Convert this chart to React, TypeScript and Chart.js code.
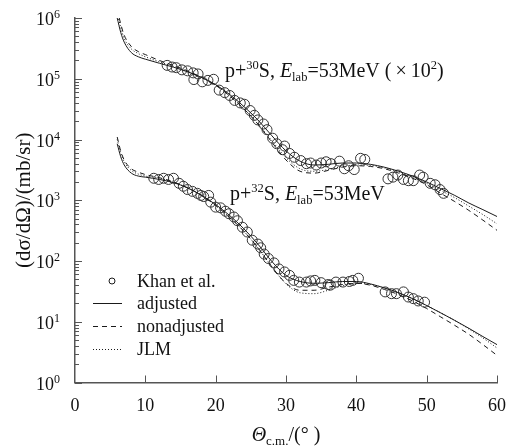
import React, { useEffect, useRef } from "react";
import { Chart, registerables } from "chart.js";

Chart.register(...registerables);

// ---------- data ----------
const curveAngles = [6, 6.5, 7, 8, 9, 10, 12, 14, 16, 18, 20, 22, 24, 26, 28, 30, 32, 34, 36, 38, 40, 42, 44, 46, 48, 50, 52, 54, 56, 58, 60];

// p+30S (x10^2)
const s30Adjusted = [1.0e6, 5.8e5, 4.0e5, 2.7e5, 2.3e5, 2.1e5, 1.8e5, 1.55e5, 1.3e5, 1.05e5, 8.0e4, 5.5e4, 3.5e4, 2.1e4, 1.15e4, 6.5e3, 4.4e3, 3.8e3, 3.9e3, 4.1e3, 4.1e3, 3.9e3, 3.5e3, 3.0e3, 2.5e3, 2.0e3, 1.55e3, 1.2e3, 9.0e2, 7.0e2, 5.4e2];
const s30Nonadjusted = [1.4e6, 8.0e5, 5.2e5, 3.4e5, 2.8e5, 2.5e5, 2.0e5, 1.65e5, 1.35e5, 1.05e5, 7.8e4, 5.2e4, 3.2e4, 1.8e4, 9.0e3, 4.6e3, 3.0e3, 2.8e3, 3.1e3, 3.5e3, 3.7e3, 3.6e3, 3.3e3, 2.8e3, 2.3e3, 1.8e3, 1.3e3, 9.5e2, 6.8e2, 4.7e2, 3.2e2];
const s30JLM = [1.2e6, 7.0e5, 4.6e5, 3.1e5, 2.6e5, 2.3e5, 1.9e5, 1.6e5, 1.32e5, 1.05e5, 7.8e4, 5.2e4, 3.2e4, 1.8e4, 9.5e3, 5.0e3, 3.3e3, 3.0e3, 3.2e3, 3.6e3, 3.8e3, 3.75e3, 3.4e3, 2.95e3, 2.45e3, 1.9e3, 1.45e3, 1.1e3, 8.0e2, 5.8e2, 4.1e2];

// p+32S
const s32Adjusted = [8.5e3, 5.2e3, 3.8e3, 2.8e3, 2.5e3, 2.4e3, 2.2e3, 1.95e3, 1.6e3, 1.2e3, 8.5e2, 5.6e2, 3.4e2, 1.9e2, 9.8e1, 5.8e1, 4.6e1, 4.3e1, 4.4e1, 4.6e1, 4.6e1, 4.2e1, 3.6e1, 3.0e1, 2.4e1, 1.85e1, 1.4e1, 1.05e1, 7.8, 5.7, 4.2];
const s32Nonadjusted = [1.1e4, 6.5e3, 4.6e3, 3.3e3, 2.9e3, 2.65e3, 2.35e3, 2.0e3, 1.6e3, 1.2e3, 8.2e2, 5.2e2, 3.1e2, 1.65e2, 8.0e1, 4.3e1, 3.3e1, 3.3e1, 3.7e1, 4.1e1, 4.3e1, 4.0e1, 3.4e1, 2.8e1, 2.2e1, 1.65e1, 1.2e1, 8.7, 6.2, 4.2, 2.8];
const s32JLM = [1.0e4, 6.0e3, 4.3e3, 3.1e3, 2.7e3, 2.5e3, 2.3e3, 1.97e3, 1.6e3, 1.2e3, 8.2e2, 5.2e2, 3.1e2, 1.65e2, 8.0e1, 4.2e1, 3.0e1, 2.9e1, 3.3e1, 3.9e1, 4.3e1, 4.1e1, 3.6e1, 3.0e1, 2.4e1, 1.85e1, 1.4e1, 1.05e1, 7.6, 5.4, 3.7];

// Khan et al. data
const khan30Angles = [13.1, 13.8, 14.4, 15.2, 16.0, 16.8, 17.5, 16.9, 18.1, 18.9, 19.7, 20.5, 21.3, 22.0, 22.7, 23.5, 24.1, 24.9, 25.5, 26.0, 26.8, 27.3, 28.1, 28.7, 29.5, 29.8, 30.5, 31.2, 32.1, 32.9, 33.5, 34.3, 35.0, 35.7, 36.4, 37.6, 38.3, 38.9, 39.7, 40.6, 41.2, 44.5, 45.2, 45.9, 46.7, 47.4, 48.1, 49.0, 49.5, 50.5, 51.2, 51.9, 52.4];
const khan30Values = [1.66e5, 1.56e5, 1.52e5, 1.4e5, 1.35e5, 1.25e5, 1.2e5, 9.7e4, 8.9e4, 9.4e4, 9.8e4, 6.5e4, 5.9e4, 5.3e4, 4.4e4, 4.0e4, 3.8e4, 3.0e4, 2.5e4, 2.1e4, 1.8e4, 1.45e4, 1.05e4, 8.5e3, 6.8e3, 7.8e3, 5.9e3, 5.1e3, 4.5e3, 4.0e3, 4.1e3, 3.8e3, 4.1e3, 4.3e3, 4.0e3, 4.4e3, 3.3e3, 3.7e3, 3.2e3, 4.9e3, 4.7e3, 2.25e3, 2.4e3, 2.6e3, 2.2e3, 2.1e3, 2.1e3, 2.6e3, 2.4e3, 1.9e3, 1.8e3, 1.5e3, 1.3e3];

const khan32Angles = [11.2, 11.9, 12.6, 13.3, 14.0, 14.8, 15.4, 16.0, 16.7, 17.4, 17.9, 18.3, 19.0, 19.3, 20.0, 20.7, 21.4, 21.9, 22.6, 23.1, 23.8, 24.5, 25.2, 26.0, 26.4, 26.9, 27.5, 28.3, 29.0, 29.8, 30.5, 31.1, 31.9, 32.9, 33.5, 34.1, 35.0, 36.0, 36.3, 37.1, 38.1, 39.0, 39.5, 40.3, 44.1, 45.0, 45.7, 46.7, 47.4, 48.1, 48.8, 49.7];
const khan32Values = [2.3e3, 2.2e3, 2.3e3, 2.2e3, 2.3e3, 1.9e3, 1.7e3, 1.5e3, 1.4e3, 1.3e3, 1.2e3, 1.15e3, 1.2e3, 9.3e2, 7.7e2, 7.5e2, 6.6e2, 6.0e2, 5.3e2, 4.6e2, 3.6e2, 3.0e2, 2.2e2, 1.9e2, 1.65e2, 1.3e2, 1.1e2, 9.3e1, 7.4e1, 6.6e1, 5.8e1, 4.8e1, 4.5e1, 4.5e1, 4.7e1, 4.8e1, 4.4e1, 4.1e1, 4.0e1, 4.5e1, 4.5e1, 4.6e1, 4.8e1, 5.2e1, 3.1e1, 2.9e1, 2.9e1, 3.1e1, 2.55e1, 2.4e1, 2.2e1, 2.1e1];

const xTickValues = [0, 10, 20, 30, 40, 50, 60];
const yTickExponents = [0, 1, 2, 3, 4, 5, 6];
const legendLabels = ["Khan et al.", "adjusted", "nonadjusted", "JLM"];

// ---------- helpers ----------
const SERIF = '"Liberation Serif", "Times New Roman", serif';
const INK = "#111";
const LINE = "#1a1a1a";
const AXIS = "#555";

type Seg = { t: string; size: number; italic?: boolean; dy?: number };

function drawRich(ctx: CanvasRenderingContext2D, x: number, y: number, segs: Seg[], align: "left" | "center" | "right" = "left") {
  let w = 0;
  const widths: number[] = [];
  for (const s of segs) {
    ctx.font = `${s.italic ? "italic " : ""}${s.size}px ${SERIF}`;
    const m = ctx.measureText(s.t).width;
    widths.push(m);
    w += m;
  }
  let cx = align === "center" ? x - w / 2 : align === "right" ? x - w : x;
  ctx.textAlign = "left";
  segs.forEach((s, i) => {
    ctx.font = `${s.italic ? "italic " : ""}${s.size}px ${SERIF}`;
    ctx.fillText(s.t, cx, y + (s.dy || 0));
    cx += widths[i];
  });
}

const pts = (xs: number[], ys: number[]) => xs.map((x, i) => ({ x, y: ys[i] }));

const DASH = [5, 4];
const DOT = [1, 2];

const overlayPlugin = {
  id: "overlay",
  afterDraw(chart: any) {
    const ctx: CanvasRenderingContext2D = chart.ctx;
    const xs = chart.scales.x;
    const ys = chart.scales.y;
    const area = chart.chartArea;
    ctx.save();
    ctx.fillStyle = INK;
    ctx.textBaseline = "alphabetic";

    // axes ticks (inward)
    ctx.strokeStyle = AXIS;
    ctx.lineWidth = 1;
    ctx.setLineDash([]);
    ctx.beginPath();
    for (const e of yTickExponents) {
      const py = Math.round(ys.getPixelForValue(Math.pow(10, e))) + 0.5;
      ctx.moveTo(area.left, py);
      ctx.lineTo(area.left + 7, py);
      if (e < 6) {
        for (let m = 2; m <= 9; m++) {
          const my = Math.round(ys.getPixelForValue(m * Math.pow(10, e))) + 0.5;
          ctx.moveTo(area.left, my);
          ctx.lineTo(area.left + 4, my);
        }
      }
    }
    for (const v of xTickValues) {
      if (v === 0) continue;
      const px = Math.round(xs.getPixelForValue(v)) + 0.5;
      ctx.moveTo(px, area.bottom);
      ctx.lineTo(px, area.bottom - 7);
    }
    ctx.stroke();

    // y tick labels
    for (const e of yTickExponents) {
      const py = ys.getPixelForValue(Math.pow(10, e));
      drawRich(ctx, 60, py + 7, [
        { t: "10", size: 18 },
        { t: String(e), size: 12, dy: -7 },
      ], "right");
    }
    // x tick labels
    for (const v of xTickValues) {
      const px = xs.getPixelForValue(v);
      drawRich(ctx, px, area.bottom + 28, [{ t: String(v), size: 18 }], "center");
    }

    // x title
    drawRich(ctx, (area.left + area.right) / 2, 441, [
      { t: "Θ", size: 20, italic: true },
      { t: "c.m.", size: 13, dy: 4 },
      { t: "/(° )", size: 20 },
    ], "center");

    // y title
    ctx.save();
    ctx.translate(24, (area.top + area.bottom) / 2);
    ctx.rotate(-Math.PI / 2);
    ctx.textBaseline = "middle";
    drawRich(ctx, 0, 0, [{ t: "(dσ/dΩ)/(mb/sr)", size: 21 }], "center");
    ctx.restore();

    // annotations
    ctx.textBaseline = "alphabetic";
    drawRich(ctx, 225, 77, [
      { t: "p+", size: 20 },
      { t: "30", size: 12.5, dy: -8 },
      { t: "S, ", size: 20 },
      { t: "E", size: 20, italic: true },
      { t: "lab", size: 12.5, dy: 4 },
      { t: "=53MeV (", size: 20 },
      { t: "\u2009×\u2009", size: 20 },
      { t: "10", size: 20 },
      { t: "2", size: 12.5, dy: -8 },
      { t: ")", size: 20 },
    ]);
    drawRich(ctx, 230, 200, [
      { t: "p+", size: 20 },
      { t: "32", size: 12.5, dy: -8 },
      { t: "S, ", size: 20 },
      { t: "E", size: 20, italic: true },
      { t: "lab", size: 12.5, dy: 4 },
      { t: "=53MeV", size: 20 },
    ]);

    // legend
    const lx0 = 93, lx1 = 122, tx = 137;
    const rows = [287, 309, 332, 355];
    ctx.strokeStyle = LINE;
    ctx.lineWidth = 1;
    ctx.beginPath();
    ctx.arc(112, rows[0] - 6, 3, 0, Math.PI * 2);
    ctx.stroke();
    const dashes = [[], DASH, DOT];
    for (let i = 1; i < 4; i++) {
      ctx.setLineDash(dashes[i - 1]);
      ctx.beginPath();
      const yy = rows[i] - 5.5;
      ctx.moveTo(lx0, yy);
      ctx.lineTo(lx1, yy);
      ctx.stroke();
    }
    ctx.setLineDash([]);
    legendLabels.forEach((lab, i) => {
      drawRich(ctx, tx, rows[i], [{ t: lab, size: 18 }]);
    });
    ctx.restore();
  },
};

export default function App() {
  const ref = useRef<HTMLCanvasElement | null>(null);
  useEffect(() => {
    if (!ref.current) return;
    const curve = (ys: number[], dash: number[]) => ({
      type: "line" as const,
      data: pts(curveAngles, ys),
      showLine: true,
      borderColor: LINE,
      borderWidth: 1,
      borderDash: dash,
      pointRadius: 0,
      fill: false,
      cubicInterpolationMode: "monotone" as const,
    });
    const markers = (xs: number[], ys: number[]) => ({
      type: "scatter" as const,
      data: pts(xs, ys),
      showLine: false,
      pointRadius: 5,
      pointBorderWidth: 1,
      pointBorderColor: "#333",
      pointBackgroundColor: "rgba(0,0,0,0)",
      pointStyle: "circle",
    });
    const chart = new Chart(ref.current, {
      type: "scatter",
      data: {
        datasets: [
          curve(s30Adjusted, []),
          curve(s30Nonadjusted, DASH),
          curve(s30JLM, DOT),
          curve(s32Adjusted, []),
          curve(s32Nonadjusted, DASH),
          curve(s32JLM, DOT),
          markers(khan30Angles, khan30Values),
          markers(khan32Angles, khan32Values),
        ] as any,
      },
      options: {
        animation: false,
        responsive: false,
        devicePixelRatio: 1,
        layout: { padding: { top: 18, right: 9, left: 0, bottom: 0 } },
        plugins: { legend: { display: false }, tooltip: { enabled: false } },
        scales: {
          x: {
            type: "linear",
            min: 0,
            max: 60,
            grid: { display: false, drawTicks: false },
            border: { display: true, color: AXIS, width: 1.5 },
            ticks: { display: false },
            afterFit: (s: any) => { s.height = 63.5; },
          },
          y: {
            type: "logarithmic",
            min: 1,
            max: 1e6,
            grid: { display: false, drawTicks: false },
            border: { display: true, color: AXIS, width: 1.5 },
            ticks: { display: false },
            afterFit: (s: any) => { s.width = 75; },
          },
        },
      } as any,
      plugins: [overlayPlugin],
    });
    return () => chart.destroy();
  }, []);
  return (
    <div style={{ position: "fixed", left: 0, top: 0, width: 506, height: 446, background: "#fff" }}>
      <canvas ref={ref} width={506} height={446} style={{ display: "block" }} />
    </div>
  );
}
